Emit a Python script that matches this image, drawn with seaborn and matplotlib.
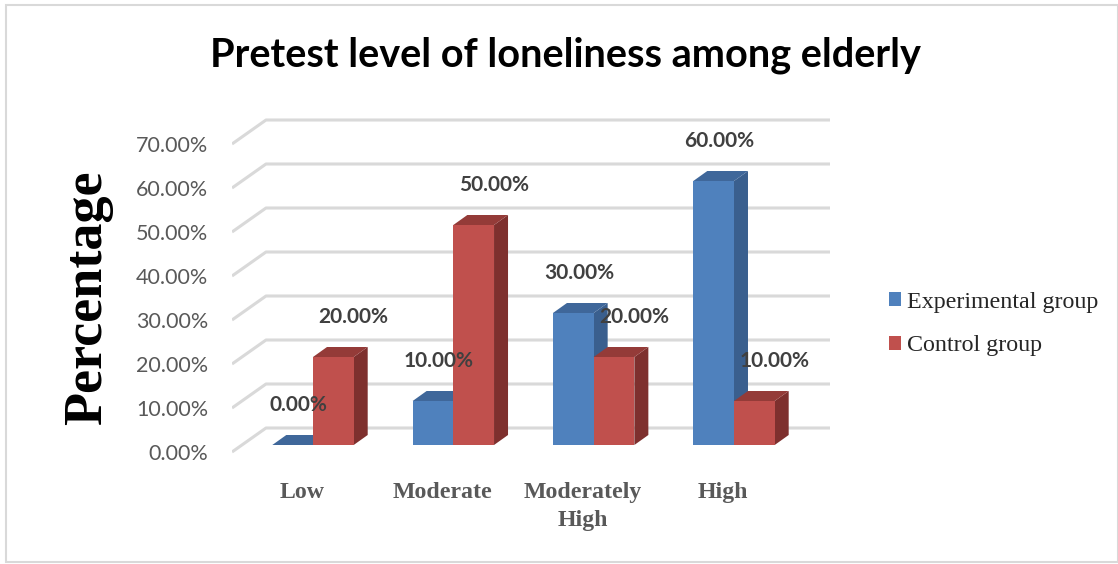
import matplotlib
matplotlib.use("Agg")
import matplotlib.pyplot as plt
from matplotlib.patches import Polygon, Patch, Rectangle
import numpy as np
import pandas as pd
import seaborn as sns

# Data
levels = ["Low", "Moderate", "Moderately\nHigh", "High"]
groups = ["Experimental group", "Control group"]
experimental = [0.0, 10.0, 30.0, 60.0]
control = [20.0, 50.0, 20.0, 10.0]
y_ticks = [0, 10, 20, 30, 40, 50, 60, 70]

front_colors = {"Experimental group": "#4F81BD", "Control group": "#C0504D"}
side_colors = {"Experimental group": "#3A5F8E", "Control group": "#7E302E"}
top_colors = {"Experimental group": "#3F679A", "Control group": "#943B38"}

df = pd.DataFrame({
    "level": levels * 2,
    "group": [groups[0]] * len(levels) + [groups[1]] * len(levels),
    "value": experimental + control,
})

W, H = 1118, 564
sns.set_theme(style="white")
fig = plt.figure(figsize=(W / 100, H / 100), dpi=100)

# Plot area in pixel terms
px_left, px_right, px_top, px_bottom = 232, 840, 100, 460
ax = fig.add_axes([px_left / W, 1 - px_bottom / H,
                   (px_right - px_left) / W, (px_bottom - px_top) / H])

sns.barplot(data=df, x="level", y="value", hue="group", order=levels,
            hue_order=groups, palette=front_colors, width=0.58,
            saturation=1, linewidth=0, legend=False, ax=ax)

x_per_px = 1 / 140.33          # one category per ~140 px
y_per_px = 10 / 44.0           # 10 % per 44 px
zero_px = 445                  # pixel row of the bar base
x0_px = 313                    # pixel column of the first category
ax.set_xlim((px_left - x0_px) * x_per_px, (px_right - x0_px) * x_per_px)
ax.set_ylim((zero_px - px_bottom) * y_per_px, (zero_px - px_top) * y_per_px)

# Depth of the bars and of the back wall
bar_dx, bar_dy = 14 * x_per_px, 10 * y_per_px
wall_front_y = (zero_px - 452) * y_per_px
wall_back_y = (zero_px - 428) * y_per_px
wall_front_x = (px_left - x0_px) * x_per_px
wall_back_x = (266 - x0_px) * x_per_px
wall_end_x = (830 - x0_px) * x_per_px

for t in y_ticks:
    ax.plot([wall_front_x, wall_back_x, wall_end_x],
            [t + wall_front_y, t + wall_back_y, t + wall_back_y],
            color="#D9D9D9", lw=2.2, zorder=0.5, solid_capstyle="butt")

# Give each bar a right side face and a top face
n = len(levels)
bars = list(ax.patches)[: 2 * n]
for i, patch in enumerate(bars):
    g = groups[i // n]
    z = 2 if g == groups[0] else 3
    x, w, h = patch.get_x(), patch.get_width(), patch.get_height()
    patch.set_zorder(z + 0.2)
    side = Polygon([(x + w, 0), (x + w + bar_dx, bar_dy),
                    (x + w + bar_dx, h + bar_dy), (x + w, h)],
                   closed=True, facecolor=side_colors[g], edgecolor="none", zorder=z)
    top = Polygon([(x, h), (x + bar_dx, h + bar_dy),
                   (x + w + bar_dx, h + bar_dy), (x + w, h)],
                  closed=True, facecolor=top_colors[g], edgecolor="none", zorder=z + 0.1)
    ax.add_patch(side)
    ax.add_patch(top)

# Value labels above the bars
values = experimental + control
for i, patch in enumerate(bars):
    g = groups[i // n]
    val = values[i]
    shift = 6 if g == groups[0] else 20
    cx = patch.get_x() + patch.get_width() / 2 + shift * x_per_px
    ax.text(cx, val + 40 * y_per_px, f"{val:.2f}%", ha="center", va="center",
            fontsize=15, fontweight="bold", family="Lato", color="#404040", zorder=6)

# Axes styling
for s in ax.spines.values():
    s.set_visible(False)
ax.set_xlabel("")
ax.set_ylabel("")
ax.set_yticks([t + wall_front_y for t in y_ticks])
ax.set_yticklabels([f"{t:.2f}%" for t in y_ticks], family="Lato", fontsize=15.5,
                   color="#595959")
ax.tick_params(axis="y", length=0, pad=17)
ax.set_xticks([i - 11 * x_per_px for i in range(n)])
ax.set_xticklabels(levels, family="Liberation Serif", fontweight="bold",
                   fontsize=17.2, color="#595959", linespacing=1.45)
ax.tick_params(axis="x", length=0, pad=16)
ax.grid(False)
ax.set_facecolor("none")

# Title and axis title
fig.text(565 / W, 1 - 55 / H, "Pretest level of loneliness among elderly",
         ha="center", va="center", fontsize=28.5, fontweight="bold",
         family="Lato", color="black")
fig.text(88 / W, 1 - 298 / H, "Percentage", rotation=90, ha="center", va="center",
         fontsize=39, fontweight="bold", family="Liberation Serif", color="black")

# Legend
handles = [Patch(facecolor=front_colors[g], edgecolor="none", label=g) for g in groups]
leg = fig.legend(handles=handles, loc="center left",
                 bbox_to_anchor=(889 / W, 1 - 324 / H), frameon=False,
                 prop={"family": "Liberation Serif", "size": 17.3},
                 handlelength=0.5, handleheight=0.5, handletextpad=0.25,
                 labelspacing=0.95, borderaxespad=0, borderpad=0)

# Light frame around the chart
fig.patches.append(Rectangle((6 / W, 1 - 562 / H), 1 - 6 / W, (562 - 5) / H,
                             transform=fig.transFigure, fill=False,
                             edgecolor="#D9D9D9", lw=1.5))

fig.savefig("out.png", dpi=100)
